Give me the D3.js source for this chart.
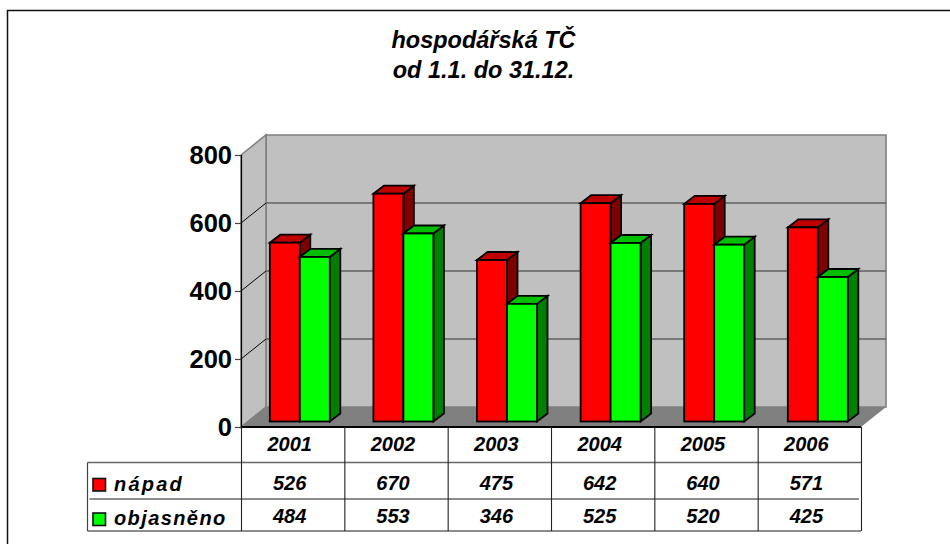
<!DOCTYPE html>
<html><head><meta charset="utf-8"><script src="https://cdn.jsdelivr.net/npm/d3@7"></script>
<style>html,body{margin:0;padding:0;background:#fff}svg{display:block}text{font-family:"Liberation Sans",Arial,sans-serif;font-weight:bold}</style></head>
<body><div id="c"></div><script>
const years=["2001","2002","2003","2004","2005","2006"];
const napad=[526,670,475,642,640,571];
const objasneno=[484,553,346,525,520,425];
const seriesNames=["nápad","objasněno"];
const yTicks=[0,200,400,600,800];
const titleLines=["hospodářská TČ","od 1.1. do 31.12."];

const svg=d3.select("#c").append("svg").attr("width",950).attr("height",544);
const plotL=241,plotR=861,y0=427,y800=155,dx=25,dy=20;
const x=d3.scaleBand().domain(years).range([plotL,plotR]);
const xBars=d3.scaleBand().domain(years).range([269.8,269.8+6*103.6]);
const y=d3.scaleLinear().domain([0,800]).range([y0,y800]);
const pts=a=>a.map(p=>p.join(",")).join(" ");

svg.append("rect").attr("x",7.5).attr("y",10.5).attr("width",960).attr("height",560).attr("fill","#fff").attr("stroke","#111").attr("stroke-width",1.5);

svg.selectAll("text.title").data(titleLines).join("text").attr("class","title")
 .attr("x",483.5).attr("y",(d,i)=>48+i*30).attr("text-anchor","middle").attr("font-size",23.5).attr("font-style","italic").text(d=>d);

// walls
const wall="#c0c0c0",grid="#606060",edge="#808080";
svg.append("polygon").attr("points",pts([[plotL+dx,y800-dy],[plotR+dx,y800-dy],[plotR+dx,y0-dy],[plotL+dx,y0-dy]])).attr("fill",wall).attr("stroke",edge).attr("stroke-width",1.6);
svg.append("polygon").attr("points",pts([[plotL,y800],[plotL+dx,y800-dy],[plotL+dx,y0-dy],[plotL,y0]])).attr("fill",wall).attr("stroke",edge).attr("stroke-width",1.6);
svg.append("polygon").attr("points",pts([[plotL,y0],[plotL+dx,y0-dy],[plotR+dx,y0-dy],[plotR,y0]])).attr("fill","#808080");
svg.selectAll("line.grid").data(yTicks.slice(1,-1)).join("line").attr("class","grid")
 .attr("x1",plotL+dx).attr("x2",plotR+dx).attr("y1",d=>y(d)-dy).attr("y2",d=>y(d)-dy).attr("stroke",grid).attr("stroke-width",1.3);
svg.selectAll("line.gridside").data(yTicks.slice(1,-1)).join("line").attr("class","gridside")
 .attr("x1",plotL).attr("x2",plotL+dx).attr("y1",d=>y(d)).attr("y2",d=>y(d)-dy).attr("stroke","#000").attr("stroke-width",1);

// bars
const barW=30,bdx=10.5,bdy=8,baseLift=5.5;
const h=v=>y0-y(v);
const drawBar=(g,bx,v,cols)=>{
  const b=y0-baseLift,t=b-h(v);
  const common=s=>s.attr("stroke","#000").attr("stroke-width",1.8).attr("stroke-linejoin","miter");
  g.append("polygon").attr("points",pts([[bx+barW,t],[bx+barW+bdx,t-bdy],[bx+barW+bdx,b-bdy],[bx+barW,b]])).attr("fill",cols[2]).call(common);
  g.append("polygon").attr("points",pts([[bx,t],[bx+bdx,t-bdy],[bx+barW+bdx,t-bdy],[bx+barW,t]])).attr("fill",cols[1]).call(common);
  g.append("rect").attr("x",bx).attr("y",t).attr("width",barW).attr("height",b-t).attr("fill",cols[0]).call(common);
};
const red=["#ff0000","#bf0000","#800000"],green=["#00ff00","#00bf00","#008000"];
years.forEach((yr,i)=>{
  const g=svg.append("g");
  const bx=xBars(yr);
  drawBar(g,bx,napad[i],red);
  drawBar(g,bx+barW,objasneno[i],green);
});

// y axis
const axis=svg.append("g").attr("transform",`translate(${plotL},0)`).call(d3.axisLeft(y).tickValues(yTicks).tickSize(6).tickPadding(3));
axis.select(".domain").attr("stroke","#000").attr("stroke-width",1.2);
axis.selectAll(".tick line").attr("stroke","#444").attr("stroke-width",1.2);
axis.selectAll("text").attr("font-size",25.5).attr("font-family",'"Liberation Sans",Arial,sans-serif').attr("font-weight","bold").attr("fill","#000");

// table
const tLeft=87.5,rows=[427,462.5,499,531];
const T=svg.append("g");
[[plotL,plotR,rows[0],"#000",2],[tLeft,plotR,rows[1],"#666",1.3],[tLeft+2,plotR-2,rows[2],"#666",1.3],[tLeft,plotR,rows[3],"#666",1.3]].forEach(d=>{
 T.append("line").attr("x1",d[0]).attr("x2",d[1]).attr("y1",d[2]).attr("y2",d[2]).attr("stroke",d[3]).attr("stroke-width",d[4]);
});
T.append("line").attr("x1",tLeft).attr("x2",tLeft).attr("y1",rows[1]).attr("y2",rows[3]).attr("stroke","#444").attr("stroke-width",1.2);
[plotL,...years.slice(1).map(d=>x(d)),plotR].forEach(v=>{
 T.append("line").attr("x1",v+0.5).attr("x2",v+0.5).attr("y1",rows[0]).attr("y2",rows[3]).attr("stroke","#222").attr("stroke-width",1.1);
});
const cell=(tx,ty,s)=>T.append("text").attr("x",tx).attr("y",ty).attr("text-anchor","middle").attr("font-style","italic").attr("font-size",20).text(s);
years.forEach((yr,i)=>{
  const c=x(yr)+x.bandwidth()/2-3;
  cell(c,451,yr); cell(c,490,napad[i]); cell(c,522.5,objasneno[i]);
});
[["#ff0000",478.5,490.5],["#00ff00",513,525]].forEach((r,i)=>{
  T.append("rect").attr("x",93).attr("y",r[1]).attr("width",12.5).attr("height",12.5).attr("fill",r[0]).attr("stroke","#111").attr("stroke-width",1.6);
  T.append("text").attr("x",114).attr("y",r[2]).attr("font-style","italic").attr("font-size",20).attr("letter-spacing",i?1.4:2.2).text(seriesNames[i]);
});
</script></body></html>
